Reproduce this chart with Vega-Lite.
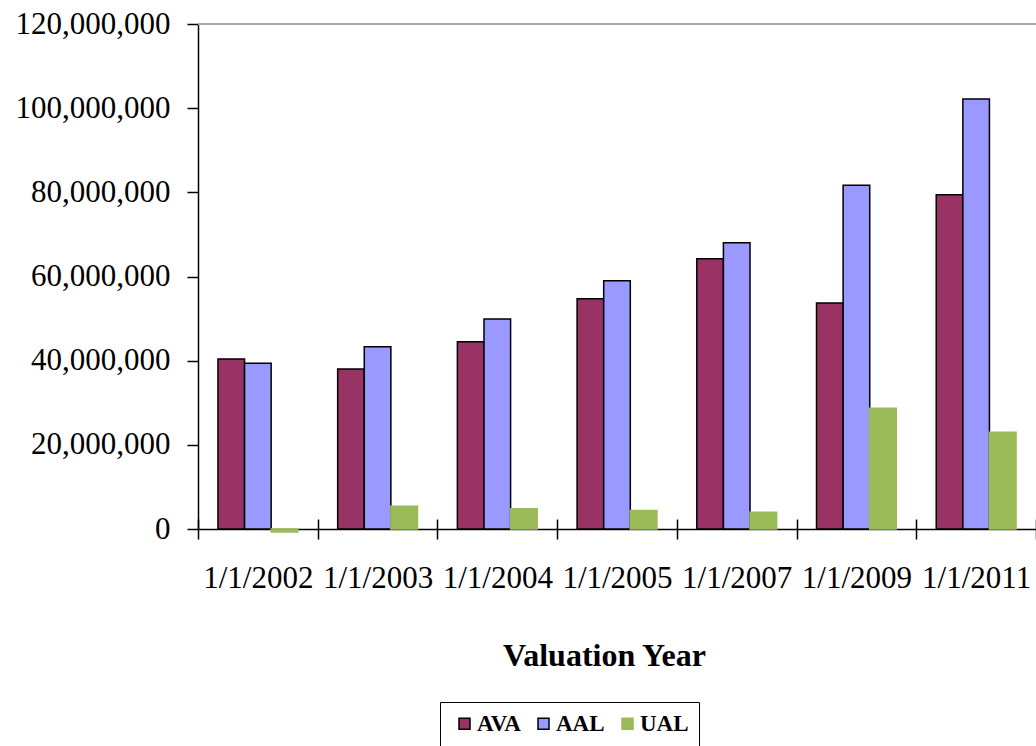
{
  "$schema": "https://vega.github.io/schema/vega-lite/v6.json",
  "width": 838,
  "height": 505,
  "autosize": "none",
  "padding": {"left": 198, "top": 24, "right": 0, "bottom": 217},
  "background": "white",
  "config": {
    "view": {"stroke": null},
    "font": "Liberation Serif",
    "legend": {
      "orient": "none",
      "legendX": 242,
      "legendY": 678,
      "direction": "horizontal",
      "title": null,
      "symbolType": "square",
      "symbolSize": 121,
      "symbolStrokeWidth": 1.5,
      "labelFont": "Liberation Serif",
      "labelFontSize": 23,
      "labelFontWeight": "bold",
      "labelColor": "#000000",
      "labelOffset": 1,
      "columnPadding": 8,
      "symbolOffset": 3,
      "padding": 10,
      "strokeColor": "#000000"
    }
  },
  "data": {
    "values": [
      {"date": "1/1/2002", "series": "AVA", "value": 40400000},
      {"date": "1/1/2002", "series": "AAL", "value": 39400000},
      {"date": "1/1/2002", "series": "UAL", "value": -700000},
      {"date": "1/1/2003", "series": "AVA", "value": 38000000},
      {"date": "1/1/2003", "series": "AAL", "value": 43300000},
      {"date": "1/1/2003", "series": "UAL", "value": 5400000},
      {"date": "1/1/2004", "series": "AVA", "value": 44500000},
      {"date": "1/1/2004", "series": "AAL", "value": 49900000},
      {"date": "1/1/2004", "series": "UAL", "value": 4800000},
      {"date": "1/1/2005", "series": "AVA", "value": 54700000},
      {"date": "1/1/2005", "series": "AAL", "value": 59000000},
      {"date": "1/1/2005", "series": "UAL", "value": 4400000},
      {"date": "1/1/2007", "series": "AVA", "value": 64200000},
      {"date": "1/1/2007", "series": "AAL", "value": 68000000},
      {"date": "1/1/2007", "series": "UAL", "value": 4000000},
      {"date": "1/1/2009", "series": "AVA", "value": 53700000},
      {"date": "1/1/2009", "series": "AAL", "value": 81700000},
      {"date": "1/1/2009", "series": "UAL", "value": 28700000},
      {"date": "1/1/2011", "series": "AVA", "value": 79400000},
      {"date": "1/1/2011", "series": "AAL", "value": 102200000},
      {"date": "1/1/2011", "series": "UAL", "value": 23000000}
    ]
  },
  "layer": [
    {
      "mark": {"type": "rule", "color": "#A6A6A6", "strokeWidth": 2},
      "encoding": {"y": {"datum": 120000000, "type": "quantitative"}}
    },
    {
      "mark": {"type": "bar", "strokeWidth": 1.5},
      "encoding": {
        "x": {
          "field": "date",
          "type": "nominal",
          "sort": null,
          "scale": {"paddingInner": 0, "paddingOuter": 0},
          "axis": {
            "orient": "bottom",
            "title": "Valuation Year",
            "titleFont": "Liberation Serif",
            "titleFontSize": 32,
            "titleFontWeight": "bold",
            "titleColor": "#000000",
            "titlePadding": 47,
            "titleX": 406,
            "labelFont": "Liberation Serif",
            "labelFontSize": 31,
            "labelColor": "#000000",
            "labelAngle": 0,
            "labelPadding": 24,
            "tickBand": "extent",
            "tickSize": 10,
            "tickColor": "#000000",
            "tickWidth": 1.5,
            "domainColor": "#000000",
            "domainWidth": 1.5,
            "grid": false
          }
        },
        "xOffset": {
          "field": "series",
          "type": "nominal",
          "sort": ["AVA", "AAL", "UAL"],
          "scale": {"paddingInner": 0, "paddingOuter": 0.75}
        },
        "y": {
          "field": "value",
          "type": "quantitative",
          "scale": {"domain": [0, 120000000], "nice": false},
          "axis": {
            "title": null,
            "values": [0, 20000000, 40000000, 60000000, 80000000, 100000000, 120000000],
            "format": ",d",
            "labelFont": "Liberation Serif",
            "labelFontSize": 31,
            "labelColor": "#000000",
            "labelPadding": 17,
            "tickSize": 11,
            "tickColor": "#000000",
            "tickWidth": 1.5,
            "domainColor": "#000000",
            "domainWidth": 1.5,
            "grid": false
          }
        },
        "fill": {
          "field": "series",
          "type": "nominal",
          "sort": ["AVA", "AAL", "UAL"],
          "scale": {"domain": ["AVA", "AAL", "UAL"], "range": ["#993366", "#9999FF", "#9BBB59"]},
          "legend": {"orient": "none", "legendX": 242, "legendY": 678, "title": null}
        },
        "stroke": {
          "field": "series",
          "type": "nominal",
          "sort": ["AVA", "AAL", "UAL"],
          "scale": {"domain": ["AVA", "AAL", "UAL"], "range": ["#000000", "#000000", "#9BBB59"]},
          "legend": {"orient": "none", "legendX": 242, "legendY": 678, "title": null}
        }
      }
    },
    {
      "mark": {"type": "bar", "opacity": 0},
      "encoding": {
        "x": {
          "field": "date",
          "type": "nominal",
          "sort": null,
          "axis": {
            "orient": "bottom",
            "title": null,
            "labels": false,
            "domain": false,
            "grid": false,
            "tickBand": "extent",
            "tickSize": -10,
            "tickColor": "#000000",
            "tickWidth": 1.5
          }
        },
        "xOffset": {"field": "series", "type": "nominal", "sort": ["AVA", "AAL", "UAL"]},
        "y": {"field": "value", "type": "quantitative"}
      }
    }
  ],
  "resolve": {"axis": {"x": "independent"}}
}
